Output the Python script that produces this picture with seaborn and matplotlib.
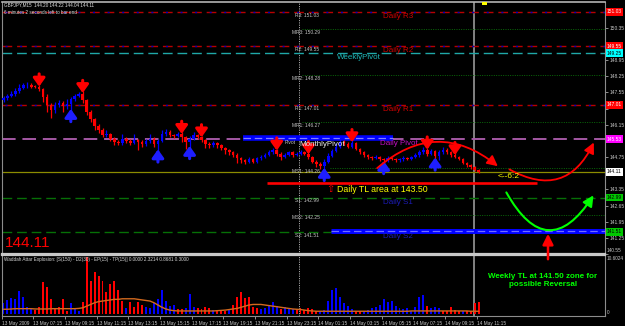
import numpy as np
import pandas as pd
import matplotlib
matplotlib.use("Agg")
import matplotlib.pyplot as plt
import matplotlib.transforms as mtransforms
from matplotlib.patches import FancyArrowPatch, Rectangle
import seaborn as sns

# ---------------- data (GBPJPY M15, 13 May 05:15 -> 14 May 11:15) ----------------
first_open = 147.20
closes = [
    147.30, 147.40, 147.50, 147.62, 147.75, 147.85, 147.88, 147.80, 147.78, 147.70,
    147.35, 147.00, 146.80, 147.00, 147.10, 146.95, 147.05, 147.25, 147.40, 147.50,
    147.20, 146.70, 146.40, 146.10, 145.90, 145.70, 145.75, 145.55, 145.40, 145.35,
    145.55, 145.45, 145.35, 145.50, 145.40, 145.30, 145.45, 145.55, 145.30, 145.45,
    145.75, 145.85, 145.70, 145.65, 145.75, 145.60, 145.40, 145.55, 145.70, 145.60,
    145.50, 145.30, 145.25, 145.35, 145.25, 145.15, 145.05, 144.95, 144.85, 144.70,
    144.60, 144.55, 144.65, 144.55, 144.70, 144.75, 144.85, 144.95, 145.05, 144.90,
    144.75, 144.85, 144.95, 144.85, 144.90, 144.95, 144.90, 144.75, 144.55, 144.45,
    144.35, 144.55, 144.80, 145.00, 145.20, 145.40, 145.30, 145.20, 145.35, 145.10,
    144.95, 144.85, 144.75, 144.70, 144.75, 144.65, 144.60, 144.70, 144.65, 144.60,
    144.65, 144.70, 144.65, 144.75, 144.85, 144.95, 145.05, 144.90, 145.00, 144.80,
    144.95, 145.05, 144.95, 144.85, 144.75, 144.65, 144.50, 144.40, 144.30, 144.20,
    144.11,
]
wick_up = [
    .10, .08, .12, .10, .15, .12, .10, .06, .08, .10,
    .05, .12, .08, .15, .10, .08, .20, .12, .10, .08,
    .10, .06, .08, .05, .10, .12, .15, .06, .08, .10,
    .20, .08, .06, .25, .05, .08, .10, .20, .06, .10,
    .15, .12, .08, .06, .10, .08, .05, .12, .15, .06,
    .08, .05, .08, .10, .06, .05, .04, .06, .05, .08,
    .06, .05, .08, .06, .05, .08, .06, .10, .08, .06,
    .05, .08, .06, .05, .06, .10, .06, .05, .06, .05,
    .08, .10, .12, .10, .15, .20, .10, .08, .12, .06,
    .05, .08, .05, .06, .08, .05, .06, .10, .05, .04,
    .05, .08, .05, .06, .08, .12, .15, .10, .08, .06,
    .10, .12, .08, .05, .06, .05, .04, .05, .04, .05,
    .02,
]
wick_dn = [
    .08, .10, .06, .10, .08, .05, .10, .08, .06, .10,
    .20, .30, .35, .15, .10, .25, .12, .30, .08, .06,
    .10, .15, .12, .20, .10, .08, .10, .12, .15, .08,
    .06, .10, .08, .05, .35, .10, .08, .08, .12, .30,
    .06, .08, .10, .06, .05, .20, .30, .25, .08, .06,
    .10, .15, .10, .06, .12, .08, .15, .10, .08, .20,
    .10, .12, .08, .06, .05, .06, .05, .06, .05, .10,
    .12, .06, .05, .08, .06, .06, .05, .10, .08, .12,
    .10, .15, .08, .06, .05, .06, .05, .08, .06, .05,
    .06, .10, .08, .06, .05, .08, .10, .06, .05, .08,
    .06, .06, .05, .05, .06, .08, .05, .10, .08, .15,
    .20, .06, .05, .08, .06, .05, .06, .08, .05, .06,
    .07,
]
dn_arrow_bars = [9, 20, 45, 50, 69, 77, 88, 107, 114]
up_arrow_bars = [17, 39, 47, 81, 96, 109]

# Waddah Attar Explosion histogram + explosion line
wae_val = [
    1.8, 2.3, 2.8, 2.6, 4.0, 3.0, 1.2, 0.8, 0.6, 1.2,
    5.6, 4.7, 2.6, 0.8, 1.2, 2.5, 0.5, 1.8, 0.8, 0.5,
    2.0, 10.0, 5.8, 7.4, 6.7, 5.8, 3.8, 5.3, 5.8, 4.1,
    2.2, 1.0, 2.0, 1.2, 2.0, 1.5, 1.2, 1.0, 1.8, 2.5,
    4.1, 2.2, 1.3, 1.5, 0.8, 0.8, 1.0, 3.5, 1.2, 1.0,
    0.8, 1.1, 0.9, 0.6, 0.5, 0.5, 0.4, 0.6, 1.5, 2.9,
    3.8, 2.7, 2.9, 1.2, 0.9, 0.8, 0.9, 1.3, 2.1, 1.4,
    0.8, 1.2, 1.0, 0.8, 0.8, 1.0, 0.6, 1.0, 0.8, 0.5,
    0.5, 0.6, 2.2, 4.1, 4.5, 3.0, 1.8, 1.3, 0.8, 0.5,
    0.4, 0.5, 0.6, 0.9, 1.2, 1.5, 2.6, 2.0, 2.2, 1.3,
    1.0, 0.8, 1.0, 0.5, 1.2, 2.9, 3.3, 1.3, 1.0, 1.2,
    1.0, 0.5, 0.4, 1.2, 0.6, 0.4, 0.5, 0.5, 0.4, 1.8,
    2.1,
]
wae_dir = list(
    "uuuuuuuudd" "ddddddduuu" "dddddddddd" "dudddduuuu" "uuuudduuud"
    "dddudddudd" "ddddduuuuu" "duuudddddd" "uuuuuuuuud" "duuuuuuuuu"
    "uuuuuuuduu" "uddddduddd" "d"
)
wae_line = [
    0.75, 0.75, 0.80, 0.85, 0.85, 0.85, 0.85, 0.85, 0.80, 0.80,
    0.80, 0.80, 0.85, 0.85, 0.85, 0.85, 0.85, 0.85, 0.85, 0.90,
    1.00, 1.30, 1.60, 1.90, 2.10, 2.20, 2.30, 2.40, 2.50, 2.50,
    2.60, 2.60, 2.60, 2.60, 2.50, 2.40, 2.30, 2.20, 1.90, 1.50,
    1.10, 0.80, 0.60, 0.50, 0.45, 0.45, 0.45, 0.45, 0.45, 0.45,
    0.45, 0.45, 0.45, 0.45, 0.50, 0.55, 0.60, 0.70, 0.80, 0.90,
    1.10, 1.30, 1.50, 1.60, 1.60, 1.60, 1.50, 1.40, 1.30, 1.20,
    1.10, 1.00, 0.90, 0.80, 0.75, 0.70, 0.60, 0.50, 0.45, 0.40,
    0.40, 0.40, 0.40, 0.40, 0.40, 0.40, 0.40, 0.40, 0.40, 0.40,
    0.40, 0.40, 0.40, 0.40, 0.40, 0.40, 0.40, 0.40, 0.40, 0.40,
    0.40, 0.40, 0.40, 0.45, 0.45, 0.45, 0.45, 0.45, 0.45, 0.45,
    0.45, 0.45, 0.45, 0.45, 0.45, 0.45, 0.45, 0.45, 0.40, 0.40,
    0.40,
]
wae_max_label = "10.6024"

# pivot levels
daily_names = ["R3", "R2", "R1", "S1", "S2"]
daily_values = [151.03, 149.55, 147.01, 142.99, 141.51]
daily_pivot = 145.53
weekly_pivot = 149.25
monthly_names = ["MR3", "MR2", "MR1", "MS1", "MS2"]
monthly_values = [150.29, 148.28, 146.27, 144.26, 142.25]
monthly_pivot = 145.57
daily_tl = 143.62
weekly_tl = 141.55
last_price = 144.11

right_ticks = [150.35, 149.65, 148.95, 148.25, 147.55, 146.85, 146.15, 145.45,
               144.75, 144.05, 143.35, 142.65, 141.95, 141.25, 140.55]
time_labels = ["13 May 2009", "13 May 07:15", "13 May 09:15", "13 May 11:15",
               "13 May 13:15", "13 May 15:15", "13 May 17:15", "13 May 19:15",
               "13 May 21:15", "13 May 23:15", "14 May 01:15", "14 May 03:15",
               "14 May 05:15", "14 May 07:15", "14 May 09:15", "14 May 11:15"]

# ---------------- figure ----------------
sns.set_theme(style="dark", rc={"axes.facecolor": "black", "figure.facecolor": "black"})
plt.rcParams["font.family"] = ["Liberation Sans", "DejaVu Sans"]

W, H = 625, 326
fig = plt.figure(figsize=(W / 100, H / 100), dpi=100)
fig.patch.set_facecolor("black")

BAR_PX, X0_PX = 3.96, 3.5
def bx(px): return (px - X0_PX) / BAR_PX
def fx(px): return px / W
def fy(py): return 1 - py / H

ax = fig.add_axes([fx(2), fy(254), (605 - 2) / W, (254 - 2) / H])
ax2 = fig.add_axes([fx(2), fy(316), (605 - 2) / W, (316 - 255) / H])
for a in (ax, ax2):
    a.set_facecolor("black")
    for s in a.spines.values():
        s.set_color("#8C8C8C")
        s.set_linewidth(0.8)
ax.spines["bottom"].set_color("#C8C8C8"); ax.spines["bottom"].set_linewidth(1.6)
ax2.spines["top"].set_color("#C8C8C8"); ax2.spines["top"].set_linewidth(1.6)
ax.spines["top"].set_color("#B4B4B4"); ax.spines["top"].set_linewidth(1.2)

PPU = 23.1
ax.set_ylim(151.03 - 242 / PPU, 151.03 + 10 / PPU)
ax.set_xlim(bx(2), bx(605))

blend = mtransforms.blended_transform_factory(ax.transAxes, ax.transData)

# dashed pivot lines
red_dash = (0, (7, 3.5))
for v in daily_values[:3]:
    ax.axhline(v, color="#B80000", ls=red_dash, lw=1.0, zorder=2)
    ax.axhline(v, color="#0000C0", ls=(8.3, (1.4, 9.1)), lw=1.0, zorder=2)
for v in daily_values[3:]:
    ax.axhline(v, color="#067006", ls=red_dash, lw=1.0, zorder=2)
ax.axhline(weekly_pivot, color="#1FA8A8", ls=red_dash, lw=1.0, zorder=2)
ax.axhline(daily_pivot, color="#A458A4", ls=red_dash, lw=1.4, zorder=2)
ax.axhline(last_price, color="#8C8C00", lw=0.9, zorder=2)

for name, v in zip(monthly_names, monthly_values):
    start = bx(330) if name == "MS1" else bx(302)
    ax.hlines(v, start, bx(605), colors="#0A6A0A", linestyles=(0, (1, 1.4)), lw=0.7, zorder=2)

# thick trend / monthly pivot bars
ax.hlines(monthly_pivot, bx(243), bx(393), colors="#0000FF", lw=4.0, zorder=3)
ax.hlines(monthly_pivot, bx(243), bx(393), colors="#7F7FFF", linestyles=(0, (6, 3)), lw=0.9, zorder=3)
ax.hlines(weekly_tl, bx(331), bx(605), colors="#0000FF", lw=3.6, zorder=3)
ax.hlines(weekly_tl, bx(331), bx(605), colors="#6E6EFF", linestyles=(0, (6, 3)), lw=0.9, zorder=3)
ax.hlines(daily_tl, bx(267), bx(537), colors="#FF0000", lw=1.9, zorder=3)

# vertical lines in both panels
for a in (ax, ax2):
    a.axvline(bx(299), color="#A8A8A8", ls=(0, (1.2, 1.2)), lw=0.7, zorder=1)
    a.axvline(bx(474), color="#8C8C8C", lw=1.3, zorder=1)

# candles
n = len(closes)
idx = np.arange(n)
o = np.array([first_open] + closes[:-1])
c = np.array(closes)
hi = np.maximum(o, c) + np.array(wick_up)
lo = np.minimum(o, c) - np.array(wick_dn)
col = np.where(c >= o, "#0000FF", "#FF0000")
ax.vlines(idx, lo, hi, colors=col, lw=0.9, zorder=5)
body = np.maximum(np.abs(c - o), 0.04)
ax.bar(idx, body, bottom=np.minimum(o, c), width=0.66, color=col, lw=0, zorder=6)

for j in dn_arrow_bars:
    tip = hi[j] - 0.08
    ax.annotate("", xy=(j, tip), xytext=(j, tip + 0.55),
                arrowprops=dict(arrowstyle="-|>,head_width=0.5,head_length=0.7",
                                color="#FF0000", lw=2.2, mutation_scale=7,
                                shrinkA=0, shrinkB=0), zorder=8)
for j in up_arrow_bars:
    tip = lo[j] + 0.08
    ax.annotate("", xy=(j, tip), xytext=(j, tip - 0.55),
                arrowprops=dict(arrowstyle="-|>,head_width=0.5,head_length=0.7",
                                color="#1E1EFF", lw=2.2, mutation_scale=7,
                                shrinkA=0, shrinkB=0), zorder=8)

# level labels
small = dict(fontsize=3.5, color="#C4C4C4", ha="left", va="top", zorder=9)
for name, v in zip(daily_names, daily_values):
    ax.text(bx(295), v - 0.03, f"{name}: {v:.2f}", **small)
for name, v in zip(monthly_names, monthly_values):
    ax.text(bx(292), v - 0.03, f"{name}: {v:.2f}", **small)
ax.text(bx(296), daily_pivot - 0.05, "Pivot", fontsize=3.5, color="#C4C4C4",
        ha="right", va="top", zorder=9)

for name, v in zip(daily_names[:3], daily_values[:3]):
    ax.text(bx(383), v - 0.04, f"Daily {name}", fontsize=5.8, color="#D00000", ha="left", va="top", zorder=9)
for name, v in zip(daily_names[3:], daily_values[3:]):
    ax.text(bx(383), v - 0.04, f"Daily {name}", fontsize=5.8, color="#1C1CB8", ha="left", va="top", zorder=9)
ax.text(bx(337), weekly_pivot - 0.05, "WeeklyPivot", fontsize=5.8, color="#1FB8B8", ha="left", va="top", zorder=9)
ax.text(bx(380), daily_pivot - 0.03, "Daily Pivot", fontsize=5.8, color="#C010C0", ha="left", va="top", zorder=9)
ax.text(bx(299), monthly_pivot - 0.14, "MonthlyPivot", fontsize=5.8, color="#E8E8E8", ha="left", va="top", zorder=9)

# right price axis: value boxes, plus tick labels that are not covered by a box
boxes = [(daily_values[0], "#FF0000", "white"), (daily_values[1], "#FF0000", "white"),
         (weekly_pivot, "#00FFFF", "black"), (daily_values[2], "#FF0000", "white"),
         (daily_pivot, "#FF00FF", "white"), (last_price, "#FFFFFF", "black"),
         (daily_values[3], "#00C800", "black"), (daily_values[4], "#00C800", "black")]
box_vals = [b[0] for b in boxes]
ax.yaxis.tick_right()
ax.set_yticks(right_ticks)
tick_texts = []
for v in right_ticks:
    near_box = min(abs(v - b) for b in box_vals) * PPU < 6
    near_bottom = (v - ax.get_ylim()[0]) * PPU < 2
    tick_texts.append("" if (near_box or near_bottom) else f"{v:.2f}")
ax.set_yticklabels(tick_texts)
ax.tick_params(axis="y", which="both", right=True, left=False, labelsize=3.5,
               colors="#C8C8C8", length=2, width=0.5, pad=1.5)
ax.set_xticks([])
for v, fc, tc in boxes:
    ax.text(1.003, v, f"{v:.2f}", transform=blend, fontsize=3.5, color=tc, ha="left",
            va="center", clip_on=False, zorder=10,
            bbox=dict(boxstyle="square,pad=0.25", fc=fc, ec="none"))

# ---------------- lower panel: Waddah Attar Explosion ----------------
wae_df = pd.DataFrame({"bar": idx, "val": wae_val, "dir": wae_dir})
sns.barplot(data=wae_df, x="bar", y="val", hue="dir", native_scale=True, dodge=False,
            palette={"u": "#0000FF", "d": "#FF0000"}, width=0.5, errorbar=None,
            saturation=1, linewidth=0, legend=False, ax=ax2)
sns.lineplot(x=idx, y=wae_line, color="#D2691E", lw=1.0, ax=ax2)
ax2.set_xlim(bx(2), bx(605))
ax2.set_ylim(-2.5 / 5.66, (313.5 - 255) / 5.66)
ax2.set_xlabel(""); ax2.set_ylabel("")
ax2.set_yticks([])
tick_pos = [max(8 * k - 0.5, -0.3) for k in range(len(time_labels))]
ax2.set_xticks(tick_pos)
ax2.set_xticklabels(time_labels)
ax2.tick_params(axis="x", bottom=True, labelsize=3.4, colors="#C8C8C8", length=2.5,
                width=0.5, pad=1)
for lbl in ax2.get_xticklabels():
    lbl.set_horizontalalignment("left")

# ---------------- figure-level annotations ----------------
fig.text(fx(607), fy(253), "140.55", fontsize=3.4, color="#C8C8C8", ha="left", va="bottom")
fig.text(fx(607), fy(258), wae_max_label, fontsize=3.4, color="#C8C8C8", ha="left", va="center")
fig.text(fx(607), fy(313), "0", fontsize=3.4, color="#C8C8C8", ha="left", va="center")
fig.text(fx(4), fy(5), "GBPJPY,M15  144.20 144.22 144.04 144.11", fontsize=3.3, color="#E0E0E0", va="center")
fig.text(fx(4), fy(12), "6 minutes 2 seconds left to bar end", fontsize=3.3, color="#E0E0E0", va="center")
fig.text(fx(4), fy(260), "Waddah Attar Explosion: [S(150) - D2(30) - EP(15) - TP(15)] 0.0000 2.3214 0.8681 0.3000",
         fontsize=3.3, color="#D8D8D8", va="center")
fig.text(fx(5), fy(243), "144.11", fontsize=11, color="#FF0000", va="center", ha="left")
fig.text(fx(337), fy(189), "Daily TL area at 143.50", fontsize=6.3, color="#FFFF00", va="center", ha="left")
fig.text(fx(330), fy(189), "\u21e7", fontsize=7, color="#FF0000", va="center", ha="center",
         family=["DejaVu Sans"])
fig.text(fx(498), fy(177), "<--6:2", fontsize=6, color="#FFFF00", va="center", ha="left")
fig.text(fx(543), fy(276), "Weekly TL at 141.50 zone for", fontsize=5.8, color="#00FF00",
         va="center", ha="center", weight="bold")
fig.text(fx(543), fy(285), "possible Reversal", fontsize=5.8, color="#00FF00",
         va="center", ha="center", weight="bold")
fig.add_artist(Rectangle((fx(482), fy(5)), 5 / W, 3 / H, transform=fig.transFigure,
                         fc="#FFFF00", ec="none"))

def fpt(px, py): return (fx(px), fy(py))
arc_style = "-|>,head_width=0.35,head_length=0.7"
fig.add_artist(FancyArrowPatch(fpt(375, 170), fpt(500, 168), connectionstyle="arc3,rad=-0.43",
                               arrowstyle=arc_style, mutation_scale=9, color="#FF0000", lw=1.3,
                               transform=fig.transFigure))
fig.add_artist(FancyArrowPatch(fpt(507, 168), fpt(595, 140), connectionstyle="arc3,rad=0.55",
                               arrowstyle=arc_style, mutation_scale=9, color="#FF0000", lw=1.3,
                               transform=fig.transFigure))
fig.add_artist(FancyArrowPatch(fpt(505, 190), fpt(595, 193), connectionstyle="arc3,rad=0.85",
                               arrowstyle=arc_style, mutation_scale=9, color="#00FF00", lw=1.5,
                               transform=fig.transFigure))
fig.add_artist(FancyArrowPatch(fpt(548, 262), fpt(548, 231), arrowstyle=arc_style,
                               mutation_scale=9, color="#FF0000", lw=1.8,
                               transform=fig.transFigure))

fig.savefig("out.png", dpi=100, facecolor="black")
